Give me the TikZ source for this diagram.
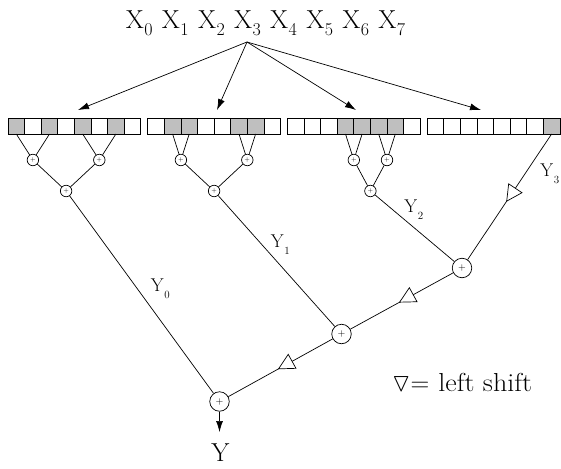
\RequirePackage{fix-cm}
\documentclass[tikz,border=0pt]{standalone}
\usepackage{amssymb}
\usetikzlibrary{calc,arrows.meta}
\tikzset{
  every path/.style={line width=0.7pt},
  cell/.style={draw, rectangle, minimum width=16.6pt, minimum height=16pt, inner sep=0pt, outer sep=0pt},
  sadd/.style={circle, draw, minimum size=11.5pt, inner sep=0pt, font=\fontsize{6}{6}\selectfont},
  madd/.style={circle, draw, minimum size=19.5pt, inner sep=0pt, font=\fontsize{10}{10}\selectfont},
  ylab/.style={anchor=base west, inner sep=0pt, font=\fontsize{18.5}{20}\selectfont},
  bigtext/.style={inner sep=0pt, font=\fontsize{26}{30}\selectfont},
  arr/.style={-{Latex[length=11pt,width=7pt]}},
  shiftfill/.style={draw, fill=white, line join=miter}
}
\newcommand\xsb[1]{\kern0.5pt\raisebox{-7pt}{\fontsize{18}{18}\selectfont #1}}
\newcommand\ysb[1]{\kern0.8pt\raisebox{-7pt}{\fontsize{11}{11}\selectfont #1}}
\newcommand\cellrow[2]{%
  \foreach \s [count=\i from 0] in {#2} {%
    \ifnum\s=1 \def\fc{gray!50}\else\def\fc{white}\fi
    \node[cell, fill=\fc] (b#1c\i) at ({8+139.7*#1+16.6*(\i+0.5)},126) {};
  }%
}
\newcommand\shifttri[3]{%
  \coordinate (m#3) at ($(#1)!0.405!(#2)$);
  \path[shiftfill] ($(m#3)!8pt!90:(#2)$) -- ($(m#3)!8pt!-90:(#2)$) -- ($(m#3)!15.5pt!(#2)$) -- cycle;
}
\begin{document}
\begin{tikzpicture}[x=1pt,y=-1pt]
\useasboundingbox (0,0) rectangle (561,468);

% top text
\node[bigtext, anchor=base west] (xs) at (125.5,28.3) {X\xsb{0}\hspace{9.3pt}X\xsb{1}\hspace{9.3pt}X\xsb{2}\hspace{9.3pt}X\xsb{3}\hspace{9.3pt}X\xsb{4}\hspace{9.3pt}X\xsb{5}\hspace{9.3pt}X\xsb{6}\hspace{9.3pt}X\xsb{7}};
\coordinate (src) at (247,42);
\coordinate (t1) at (78,110);
\coordinate (t2) at (217,110);
\coordinate (t3) at (356,110);
\coordinate (t4) at (481,110);
\draw[arr] (src) -- (t1);
\draw[arr] (src) -- (t2);
\draw[arr] (src) -- (t3);
\draw[arr] (src) -- (t4);

% cell rows
\cellrow{0}{1,0,1,0,1,0,1,0}
\cellrow{1}{0,1,1,0,0,1,1,0}
\cellrow{2}{0,0,0,1,1,1,1,0}
\cellrow{3}{0,0,0,0,0,0,0,1}

% small adders
\node[sadd] (s0a) at ($(b0c0.south)!0.5!(b0c2.south)+(0,26)$) {$+$};
\node[sadd] (s0b) at ($(b0c4.south)!0.5!(b0c6.south)+(0,26)$) {$+$};
\node[sadd] (s0c) at ($(s0a)!0.5!(s0b)+(0,31)$) {$+$};
\node[sadd] (s1a) at ($(b1c1.south)!0.5!(b1c2.south)+(0,26)$) {$+$};
\node[sadd] (s1b) at ($(b1c5.south)!0.5!(b1c6.south)+(0,26)$) {$+$};
\node[sadd] (s1c) at ($(s1a)!0.5!(s1b)+(0,31)$) {$+$};
\node[sadd] (s2a) at ($(b2c3.south)!0.5!(b2c4.south)+(0,26)$) {$+$};
\node[sadd] (s2b) at ($(b2c5.south)!0.5!(b2c6.south)+(0,26)$) {$+$};
\node[sadd] (s2c) at ($(s2a)!0.5!(s2b)+(0,31)$) {$+$};

\draw (b0c0.south) -- (s0a); \draw (b0c2.south) -- (s0a);
\draw (b0c4.south) -- (s0b); \draw (b0c6.south) -- (s0b);
\draw (s0a) -- (s0c); \draw (s0b) -- (s0c);
\draw (b1c1.south) -- (s1a); \draw (b1c2.south) -- (s1a);
\draw (b1c5.south) -- (s1b); \draw (b1c6.south) -- (s1b);
\draw (s1a) -- (s1c); \draw (s1b) -- (s1c);
\draw (b2c3.south) -- (s2a); \draw (b2c4.south) -- (s2a);
\draw (b2c5.south) -- (s2b); \draw (b2c6.south) -- (s2b);
\draw (s2a) -- (s2c); \draw (s2b) -- (s2c);

% main adders
\node[madd] (A3) at (462,268) {$+$};
\node[madd] (A2) at (341.5,334) {$+$};
\node[madd] (A1) at (219.5,401.5) {$+$};
\coordinate (yout) at (219.5,432);

\draw (s0c) -- (A1);
\draw (s1c) -- (A2);
\draw (s2c) -- (A3);
\draw (b3c7.south) -- (A3);
\draw (A3) -- (A2);
\draw (A2) -- (A1);
\draw[arr] (A1) -- (yout);

\shifttri{b3c7.south}{A3}{a}
\shifttri{A3}{A2}{b}
\shifttri{A2}{A1}{c}

% labels
\node[ylab] (y0) at (150.5,291) {Y\ysb{0}};
\node[ylab] (y1) at (270.5,247.5) {Y\ysb{1}};
\node[ylab] (y2) at (404,212.5) {Y\ysb{2}};
\node[ylab] (y3) at (540,176.7) {Y\ysb{3}};
\node[bigtext, anchor=base] (yy) at (220.5,461.7) {Y};
\node[anchor=base west, inner sep=0pt, font=\fontsize{26}{30}\selectfont] (leg) at (391.5,391.7) {$\triangledown$=\hspace{9pt}\scalebox{1.08}[1]{left shift}};
\end{tikzpicture}
\end{document}
